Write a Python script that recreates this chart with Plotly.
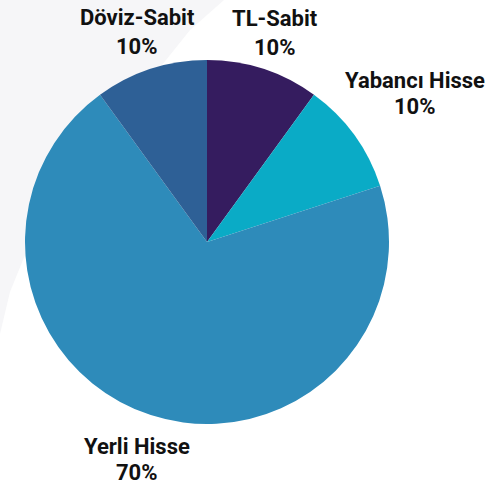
import plotly.graph_objects as go

labels = ["TL-Sabit", "Yabancı Hisse", "Yerli Hisse", "Döviz-Sabit"]
values = [10, 10, 70, 10]
colors = ["#351c5f", "#0aabc6", "#2e8bba", "#2e6096"]
pct_text = ["10%", "10%", "70%", "10%"]

W, H = 504, 486
FONT = "Roboto, DejaVu Sans Condensed, sans-serif"

fig = go.Figure()
fig.add_trace(go.Pie(
    labels=labels, values=values, sort=False, direction="clockwise", rotation=0,
    marker=dict(colors=colors, line=dict(width=0)),
    textinfo="none", hoverinfo="label+percent", showlegend=False,
    domain=dict(x=[(207 - 182) / W, (207 + 182) / W], y=[(H - 242 - 182) / H, (H - 242 + 182) / H]),
))

def px(x, y):
    return f"{x / W:.4f},{1 - y / H:.4f}"

pts = [(0, 0), (224, 0), (190, 30), (130, 105), (70, 185), (25, 255), (10, 292), (0, 334)]
path = "M " + " L ".join(px(x, y) for x, y in pts) + " Z"
fig.add_shape(type="path", path=path, xref="paper", yref="paper",
              fillcolor="#f6f6f8", line=dict(width=0), layer="below")

# label positions (center x, baseline of name line, baseline of percent line)
pos = {
    "TL-Sabit": (275, 25, 53),
    "Yabancı Hisse": (415, 87, 113),
    "Yerli Hisse": (137, 452, 478),
    "Döviz-Sabit": (137, 24, 52),
}
fs = 22
for lab, pct in zip(labels, pct_text):
    cx, b1, b2 = pos[lab]
    for txt, b in ((lab, b1), (pct, b2)):
        fig.add_annotation(x=cx / W, y=1 - (b - 6) / H, xref="paper", yref="paper",
                           text=f"<b>{txt}</b>", showarrow=False, xanchor="center", yanchor="middle",
                           font=dict(family=FONT, size=fs, color="#111111"))

fig.update_layout(width=W, height=H, margin=dict(l=0, r=0, t=0, b=0),
                  paper_bgcolor="white", plot_bgcolor="white")
fig.write_html("out.html", config={"displayModeBar": False},
               post_script="document.body.style.margin='0';")
